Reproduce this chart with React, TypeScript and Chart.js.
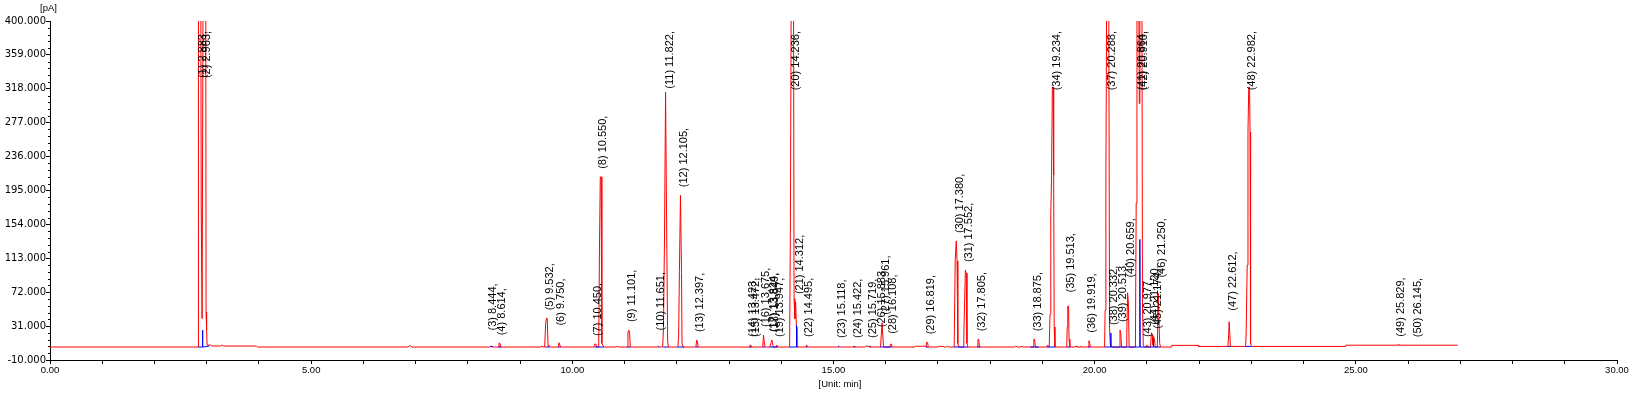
import React, { useEffect, useRef } from "react";
import { Chart, registerables } from "chart.js";

Chart.register(...registerables);

// ---- axis ticks ----
const yTickValues = [-10, 31, 72, 113, 154, 195, 236, 277, 318, 359, 400];
const xTickValues = [0, 1, 2, 3, 4, 5, 6, 7, 8, 9, 10, 11, 12, 13, 14, 15, 16, 17, 18, 19, 20, 21, 22, 23, 24, 25, 26, 27, 28, 29, 30];
const xTickLabels: Record<number, string> = { 0: "0.00", 5: "5.00", 10: "10.00", 15: "15.00", 20: "20.00", 25: "25.00", 30: "30.00" };
const yUnitLabel = "[pA]";
const xUnitLabel = "[Unit: min]";

// ---- peak table (number, retention time, height in pA) ----
const peakNumbers = [1, 2, 3, 4, 5, 6, 7, 8, 9, 10, 11, 12, 13, 14, 15, 16, 17, 18, 19, 20, 21, 22, 23, 24, 25, 26, 27, 28, 29, 30, 31, 32, 33, 34, 35, 36, 37, 38, 39, 40, 41, 42, 43, 44, 45, 46, 47, 48, 49, 50];
const peakTimes = [2.883, 2.963, 8.444, 8.614, 9.532, 9.75, 10.45, 10.55, 11.101, 11.651, 11.822, 12.105, 12.397, 13.423, 13.472, 13.675, 13.824, 13.849, 13.947, 14.236, 14.312, 14.495, 15.118, 15.422, 15.719, 15.883, 15.961, 16.108, 16.819, 17.38, 17.552, 17.805, 18.875, 19.234, 19.513, 19.919, 20.288, 20.332, 20.513, 20.659, 20.864, 20.91, 20.977, 21.12, 21.174, 21.25, 22.612, 22.982, 25.829, 26.145];
const peakHeights = [430, 430, 16, 10.2, 40.4, 22, 9.3, 211.5, 26.2, 16, 314, 189.3, 14.1, 8.1, 8.1, 20.2, 14.1, 14.1, 8.1, 430, 60, 8.1, 6.5, 7, 7, 20, 35, 12, 11.4, 133.8, 98.7, 15, 15, 320, 62, 13.3, 430, 22.6, 26.2, 80, 430, 430, 8, 23, 18.1, 80, 40, 320, 8.5, 7.9];

// ---- detector signal (time min, pA) ----
const signalTrace: [number, number][] = [
  [0.0, 5.7], [2.835, 5.7], [2.842, 430], [2.888, 430], [2.895, 177], [2.912, 40], [2.93, 430], [2.982, 430],
  [2.988, 48], [2.998, 26], [3.008, 8], [3.08, 8], [3.1, 6.9], [3.26, 6.9], [3.29, 8.1], [3.32, 6.9], [3.95, 6.9],
  [3.97, 5.7], [6.85, 5.7], [6.89, 7.5], [6.93, 5.7],
  [8.42, 5.7], [8.44, 6.8], [8.46, 5.7], [8.58, 5.7], [8.595, 10.2], [8.615, 10.2], [8.63, 5.7],
  [9.4, 5.7], [9.42, 7], [9.44, 5.7], [9.47, 5.7], [9.49, 35], [9.505, 40.4], [9.52, 40.4], [9.535, 8], [9.55, 5.7],
  [9.73, 5.7], [9.745, 10.9], [9.76, 10.9], [9.775, 5.7],
  [10.41, 5.7], [10.43, 9.3], [10.45, 9.3], [10.465, 5.7], [10.505, 5.7], [10.52, 128], [10.535, 211.5], [10.55, 211.5],
  [10.565, 10], [10.585, 8], [10.6, 5.7], [10.84, 5.7], [10.86, 7], [10.88, 5.7],
  [11.05, 5.7], [11.065, 24], [11.08, 26.2], [11.095, 24], [11.11, 5.7], [11.63, 5.7], [11.645, 7], [11.66, 5.7],
  [11.73, 5.7], [11.745, 29], [11.765, 141], [11.785, 314], [11.805, 157], [11.825, 12], [11.84, 5.7],
  [12.02, 5.7], [12.035, 18], [12.05, 96.7], [12.07, 189.3], [12.09, 96], [12.1, 10], [12.12, 5.7],
  [12.365, 5.7], [12.38, 14.1], [12.395, 12], [12.41, 5.7],
  [13.39, 5.7], [13.4, 8.1], [13.42, 7.5], [13.44, 5.7], [13.645, 5.7], [13.66, 20.2], [13.675, 12], [13.69, 5.7],
  [13.78, 5.7], [13.8, 10], [13.82, 14.1], [13.835, 9], [13.85, 5.7], [13.9, 5.7], [13.915, 8.1], [13.93, 5.7],
  [14.16, 5.7], [14.175, 157], [14.19, 430], [14.235, 430], [14.245, 64], [14.26, 40], [14.275, 60], [14.29, 30],
  [14.3, 8], [14.32, 5.7], [14.47, 5.7], [14.485, 8.1], [14.5, 5.7],
  [15.08, 5.7], [15.095, 6.5], [15.11, 5.7], [15.37, 5.7], [15.39, 7], [15.41, 5.7], [15.6, 5.7], [15.62, 6.8],
  [15.66, 6.8], [15.68, 5.7], [15.69, 5.7], [15.705, 7], [15.72, 5.7],
  [15.9, 5.7], [15.915, 20], [15.93, 35], [15.945, 35], [15.955, 8], [15.97, 5.7],
  [16.08, 5.7], [16.095, 9.3], [16.11, 9.3], [16.125, 5.7], [16.55, 5.7], [16.57, 6.6], [16.76, 6.6],
  [16.77, 5.7], [16.785, 11.4], [16.8, 11.4], [16.815, 5.7], [17.0, 5.7], [17.02, 6.5], [17.1, 6.5], [17.12, 5.7],
  [17.16, 5.7], [17.18, 7], [17.21, 5.7],
  [17.31, 5.7], [17.33, 110], [17.35, 133.8], [17.365, 110], [17.38, 10], [17.4, 5.7],
  [17.48, 5.7], [17.495, 20], [17.51, 60], [17.525, 98.7], [17.54, 95], [17.555, 10], [17.575, 5.7],
  [17.75, 5.7], [17.765, 15], [17.78, 15], [17.795, 5.7],
  [18.47, 5.7], [18.49, 6.8], [18.52, 5.7], [18.59, 5.7], [18.61, 6.8], [18.63, 5.7],
  [18.82, 5.7], [18.835, 15], [18.85, 15], [18.865, 5.7],
  [19.08, 5.7], [19.1, 8], [19.12, 6], [19.13, 6], [19.145, 45], [19.16, 165], [19.175, 213.5], [19.19, 320],
  [19.205, 320], [19.215, 213.5], [19.225, 30], [19.24, 5.7],
  [19.465, 5.7], [19.475, 30], [19.485, 55.2], [19.5, 55.2], [19.51, 15], [19.525, 5.7],
  [19.63, 5.7], [19.645, 7], [19.66, 5.7], [19.72, 5.7], [19.735, 6.8], [19.75, 5.7],
  [19.875, 5.7], [19.89, 13.3], [19.905, 10], [19.92, 5.7],
  [20.19, 5.7], [20.2, 50.4], [20.215, 211.5], [20.23, 430], [20.27, 430], [20.285, 28], [20.3, 8], [20.32, 5.7],
  [20.47, 5.7], [20.485, 26.2], [20.5, 22], [20.515, 5.7],
  [20.6, 5.7], [20.615, 20], [20.63, 71.3], [20.645, 60], [20.66, 5.7],
  [20.78, 5.7], [20.795, 179.7], [20.81, 430], [20.845, 430], [20.855, 300], [20.865, 430], [20.905, 430],
  [20.915, 60], [20.93, 8], [20.95, 5.7], [20.99, 5.7], [21.0, 8], [21.01, 5.7],
  [21.07, 5.7], [21.085, 23], [21.1, 20], [21.115, 8], [21.13, 18.1], [21.145, 15], [21.16, 5.7],
  [21.2, 5.7], [21.215, 70.6], [21.23, 70.6], [21.245, 10], [21.26, 5.7],
  [21.47, 5.7], [21.475, 7.7], [21.98, 7.7], [21.99, 6.4],
  [22.55, 6.4], [22.565, 20], [22.575, 36.3], [22.59, 36.3], [22.6, 6.4],
  [22.89, 6.4], [22.9, 22.6], [22.92, 104.8], [22.935, 265.8], [22.95, 320], [22.965, 320], [22.975, 265.8],
  [22.985, 10], [23.0, 6.4], [24.8, 6.4], [24.81, 7.9], [25.8, 7.9], [25.81, 8.8], [25.82, 7.9], [26.95, 7.9],
];

// ---- integration baselines / markers (segments) ----
const baselineSegments: [number, number][][] = [
  [[2.84, 5.7], [2.915, 5.7], [2.92, 26.2], [2.925, 5.7], [3.05, 6.9]],
  [[8.43, 5.7], [8.445, 7], [8.46, 5.7]],
  [[8.585, 5.7], [8.64, 5.7]],
  [[9.48, 5.7], [9.55, 5.7]],
  [[9.73, 5.7], [9.775, 5.7]],
  [[10.42, 5.7], [10.6, 5.7]],
  [[11.05, 5.7], [11.11, 5.7]],
  [[11.64, 5.7], [11.655, 5.7]],
  [[11.74, 5.7], [11.84, 5.7]],
  [[12.02, 5.7], [12.14, 5.7]],
  [[12.365, 5.7], [12.41, 5.7]],
  [[13.39, 5.7], [13.44, 5.7]],
  [[13.645, 5.7], [13.69, 5.7]],
  [[13.78, 5.7], [13.93, 5.7]],
  [[14.16, 5.7], [14.285, 5.7], [14.29, 32.3], [14.295, 5.7], [14.32, 5.7]],
  [[14.47, 5.7], [14.5, 5.7]],
  [[15.09, 5.7], [15.095, 7], [15.1, 5.7]],
  [[15.38, 5.7], [15.42, 5.7]],
  [[15.69, 5.7], [15.72, 5.7]],
  [[15.9, 5.7], [16.125, 5.7]],
  [[16.77, 5.7], [16.815, 5.7]],
  [[17.31, 5.7], [17.575, 5.7]],
  [[17.75, 5.7], [17.81, 5.7]],
  [[18.77, 5.7], [18.93, 5.7]],
  [[19.08, 5.7], [19.24, 5.7]],
  [[19.465, 5.7], [19.525, 5.7]],
  [[19.875, 5.7], [19.92, 5.7]],
  [[20.19, 5.7], [20.305, 5.7], [20.31, 22.6], [20.315, 5.7], [20.86, 5.7], [20.865, 135.8], [20.87, 5.7],
    [21.12, 5.7], [21.125, 15], [21.13, 5.7], [21.26, 5.7]],
  [[22.55, 6.4], [22.6, 6.4]],
  [[22.89, 6.4], [22.99, 6.4]],
];

const LABEL_FONT = "11px 'Liberation Sans', Arial, sans-serif";
const AXIS_FONT = "9.5px 'Liberation Sans', Arial, sans-serif";

const overlayPlugin = {
  id: "chromOverlay",
  afterDatasetsDraw(chart: any) {
    const { ctx, chartArea, scales } = chart;
    const xs = scales.x;
    const ys = scales.y;
    ctx.save();
    ctx.font = LABEL_FONT;
    ctx.fillStyle = "#000";
    ctx.textBaseline = "alphabetic";
    ctx.textAlign = "left";
    peakNumbers.forEach((n, i) => {
      const text = `(${n}) ${peakTimes[i].toFixed(3)},`;
      const w = ctx.measureText(text).width;
      const px = xs.getPixelForValue(peakTimes[i]) + 5;
      let bottom = ys.getPixelForValue(peakHeights[i]) - 8;
      bottom = Math.min(bottom, 338);
      bottom = Math.max(bottom, chartArea.top + 10 + w);
      ctx.save();
      ctx.translate(px, bottom);
      ctx.rotate(-Math.PI / 2);
      ctx.fillText(text, 0, 0);
      ctx.restore();
    });
    ctx.restore();
  },
  afterDraw(chart: any) {
    const { ctx, chartArea, scales } = chart;
    const ys = scales.y;
    ctx.save();
    // minor y ticks (5 subdivisions per major step)
    ctx.strokeStyle = "#000";
    ctx.lineWidth = 1;
    ctx.beginPath();
    for (let k = 0; k < yTickValues.length - 1; k++) {
      const a = yTickValues[k];
      const b = yTickValues[k + 1];
      for (let m = 1; m < 5; m++) {
        const v = a + ((b - a) * m) / 5;
        const y = Math.round(ys.getPixelForValue(v)) + 0.5;
        ctx.moveTo(chartArea.left - 2, y);
        ctx.lineTo(chartArea.left, y);
      }
    }
    ctx.stroke();
    // unit labels
    ctx.fillStyle = "#000";
    ctx.font = AXIS_FONT;
    ctx.textAlign = "center";
    ctx.textBaseline = "middle";
    ctx.fillText(yUnitLabel, 48.5, 8.5);
    ctx.fillText(xUnitLabel, 840, 384);
    ctx.restore();
  },
};

export default function App() {
  const canvasRef = useRef<HTMLCanvasElement | null>(null);

  useEffect(() => {
    const canvas = canvasRef.current;
    if (!canvas) return;
    const bluePoints: { x: number; y: number | null }[] = [];
    baselineSegments.forEach((seg, i) => {
      if (i > 0) bluePoints.push({ x: seg[0][0] - 0.001, y: null });
      seg.forEach(([x, y]) => bluePoints.push({ x, y }));
    });
    const chart = new Chart(canvas, {
      type: "line",
      data: {
        datasets: [
          {
            label: "Signal",
            data: signalTrace.map(([x, y]) => ({ x, y })),
            borderColor: "#ff0000",
            backgroundColor: "#ff0000",
            borderWidth: 1,
            pointRadius: 0,
            tension: 0,
            order: 1,
          },
          {
            label: "Baseline",
            data: bluePoints,
            borderColor: "#0000ff",
            backgroundColor: "#0000ff",
            borderWidth: 1,
            pointRadius: 0,
            tension: 0,
            spanGaps: false,
            order: 0,
          },
        ],
      },
      options: {
        responsive: false,
        animation: false,
        devicePixelRatio: 1,
        layout: { padding: { left: 0, right: 19, top: 21, bottom: 0 } },
        plugins: { legend: { display: false }, tooltip: { enabled: false } },
        scales: {
          x: {
            type: "linear",
            min: 0,
            max: 30,
            afterBuildTicks: (s: any) => {
              s.ticks = xTickValues.map((v) => ({ value: v }));
            },
            afterFit: (s: any) => {
              s.height = 35;
            },
            ticks: {
              autoSkip: false,
              maxRotation: 0,
              padding: 1,
              color: "#000",
              font: { family: "'Liberation Sans', Arial, sans-serif", size: 9.5 },
              callback: (v: any) => xTickLabels[Number(v)] ?? "",
            },
            grid: { display: true, drawOnChartArea: false, drawTicks: true, tickLength: 4, color: "#000" },
            border: { display: true, color: "#000", width: 1 },
          },
          y: {
            type: "linear",
            min: -10,
            max: 400,
            afterBuildTicks: (s: any) => {
              s.ticks = yTickValues.map((v) => ({ value: v }));
            },
            afterFit: (s: any) => {
              s.width = 50;
            },
            ticks: {
              autoSkip: false,
              padding: 0,
              color: "#000",
              font: { family: "'DejaVu Sans', Verdana, sans-serif", size: 10 },
              callback: (v: any) => Number(v).toFixed(3),
            },
            grid: { display: true, drawOnChartArea: false, drawTicks: true, tickLength: 4, color: "#000" },
            border: { display: true, color: "#000", width: 1 },
          },
        },
      },
      plugins: [overlayPlugin],
    });
    return () => chart.destroy();
  }, []);

  return (
    <div style={{ position: "fixed", left: 0, top: 0, width: 1636, height: 395, background: "#fff" }}>
      <canvas ref={canvasRef} width={1636} height={395} style={{ display: "block" }} />
    </div>
  );
}
